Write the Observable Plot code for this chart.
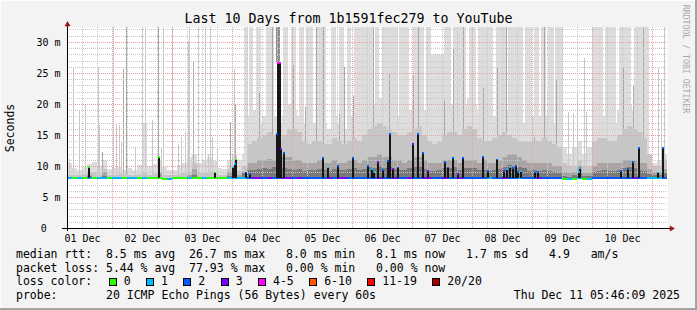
<!DOCTYPE html>
<html>
<head>
<meta charset="utf-8">
<script src="https://cdn.jsdelivr.net/npm/d3@7"></script>
<script src="https://cdn.jsdelivr.net/npm/@observablehq/plot@0.6"></script>
<style>
html,body{margin:0;padding:0;background:#f3f3f3;}
#wrap{position:relative;width:697px;height:310px;background:#f3f3f3;overflow:hidden;font-family:"DejaVu Sans Mono",monospace;color:#000;
 box-shadow: inset -2px -2px 0 #a3a3a3, inset 1px 1px 0 #fdfdfd;}
#plot{position:absolute;left:0;top:0;}
#plot svg{display:block;}
.title{position:absolute;left:0;top:11px;width:697px;text-align:center;font-size:13.3px;line-height:16px;white-space:pre;}
.ylab{position:absolute;left:10px;top:127.5px;font-size:11.5px;line-height:normal;white-space:pre;transform:translate(-50%,-50%) rotate(-90deg);}
.credit{position:absolute;left:686px;top:59px;font-size:8.2px;line-height:normal;color:#aaa;white-space:pre;transform:translate(-50%,-50%) rotate(90deg);}
.legend{position:absolute;left:16px;top:248px;font-size:11.5px;line-height:13.5px;white-space:pre;}
.row{position:relative;height:13.5px;}
.box{position:absolute;top:3.3px;width:6px;height:6px;border:1px solid #000;}
.lbl{position:absolute;top:0;}
.date{position:absolute;right:17px;top:288.5px;font-size:11.5px;line-height:13.5px;white-space:pre;}
</style>
</head>
<body>
<div id="wrap">
  <div id="plot"></div>
  <div class="title">Last 10 Days from 1b1591fec279 to YouTube</div>
  <div class="ylab">Seconds</div>
  <div class="credit">RRDTOOL / TOBI OETIKER</div>
  <div class="legend" id="legend"></div>
  <div class="date" id="date"></div>
</div>
<script>
// ---------------- DATA ----------------
// time buckets of 2 hours, starting 01 Dec 06:00 UTC (120 buckets = 10 days)
const smokeL = [10.5,9.6,9.4,9.8,10.3,10.6,10.0,11.0,9.5,9.6,9.8,9.4,9.6,9.4,10.2,17.0,10.0,10.3,11.0,9.8,9.3,9.4,10.2,10.4,11.5,12.0,10.5,11.0,11.5,10.8,9.6,9.5,11.0,12.0,11.0,
  12,18,19,17,18,19,18,17,18,20,19,18,17,18,17,18,17,16,18,17,16,18,18,17,19,20,20,21,20,20,19,18,19,19,20,20,19,18,18,19,19,20,20,19,20,21,20,19,18,18,18,19,19,19,18,18,17,17,18,18,18,19,17,16,13,12,13,14,12,13,17,18,18,18,17,19,20,20,19,19,18,12,10.5,11,12];
const smokeM = [8.6,8.6,8.6,8.7,9.0,8.8,8.6,9.5,8.6,8.6,8.7,8.6,8.6,8.6,8.7,8.8,8.6,8.7,9.0,8.6,8.5,8.6,8.7,8.8,9.0,10.5,8.8,8.9,9.0,8.8,8.6,8.6,9.5,10.0,9.2,
  10,13.5,14,14.5,15,15.4,15,14,15,16,16,15.5,14,13.5,14,14,13.5,13.5,14.5,14,13.5,14,14.5,14,15,16,16.5,17,16.5,16,15.5,15,15,15.5,16,16.5,15,14,13.5,13.8,15,15.5,15.5,15,16,16.5,16,14.5,14,14,14.5,15,15.5,15,14.5,14,13.8,13.8,14,14,14.5,14,13.5,13,10.5,10,10,11,10,10,14,14.5,14.5,14,14,15,16,16.5,16,15.5,14.5,12,10,10,11];
const smokeD = [8,8,8,8,8.6,8,8,9,8,8,8,8,8,8,8,8,8,8,8.8,8,8,8,8,8,8.5,9.5,8,8,8,8,8,8,9.0,9.5,8.6,
  9,10.5,10.5,11,11,11.2,11,11,11.5,11.5,11,11,10.5,10.5,10.5,11,10.5,10.5,11,10.5,10.5,11,11,10.5,11,11.5,11.5,12,11.5,11.5,11,11,10.5,11,11.5,11.5,11,10.5,10.5,10.5,11,11,11,10.5,11,11,11,10.5,11,10.5,10.5,11,11.5,12,12,11.5,11,10.5,10.5,10.5,10.5,10.5,10,10,9,8.8,9,10,8.8,8.8,10,10.5,10.5,10.5,10.5,10.5,11,11,11,10.5,10.5,9.5,9,9,9.5];
const smokeK = [8,8,8,8,8.4,8,8,8.4,8,8,8,8,8,8,8,8,8,8,8.3,8,8,8,8,8,8,8.6,8,8,8,8,8,8,8.4,8.6,8.2,
  8.8,9.4,9.3,9.5,9.6,9.5,9.8,9.4,9.6,9.5,9.4,9.5,9.2,9.3,9.4,9.5,9.4,9.2,9.5,9.3,9.4,9.5,9.6,9.3,9.5,9.8,9.7,10.0,9.7,9.8,9.5,9.4,9.3,9.6,9.8,10.0,9.5,9.2,9.2,9.3,9.6,9.7,9.8,9.4,9.6,9.7,9.6,9.3,9.4,9.2,9.4,9.5,9.8,10.2,10.0,9.8,9.6,9.2,9.3,9.2,9.3,9.2,9.0,8.9,8.4,8.3,8.5,9.2,8.4,8.4,9.0,9.2,9.3,9.2,9.2,9.4,9.6,9.8,9.7,9.4,9.2,8.7,8.5,8.6,8.8];
const medianMs = [8.1,8.1,8.1,8.1,8.1,8.1,8.1,8.1,8.1,8.1,8.1,8.1,8.1,8.1,8.1,8.1,8.1,8.1,8.1,8.0,7.9,8.1,8.1,8.1,8.1,8.1,8.1,8.1,8.1,8.1,8.1,8.1,8.1,8.1,8.1,
  8.2,8.2,8.2,8.2,8.2,8.2,8.2,8.2,8.2,8.2,8.2,8.2,8.2,8.2,8.2,8.2,8.2,8.2,8.2,8.2,8.2,8.2,8.2,8.2,8.2,8.2,8.2,8.2,8.2,8.2,8.2,8.2,8.2,8.2,8.2,8.2,8.2,8.2,8.2,8.2,8.2,8.2,8.2,8.2,8.2,8.2,8.2,8.2,8.2,8.2,8.2,8.2,8.2,8.2,8.2,8.2,8.2,8.2,8.2,8.2,8.2,8.2,8.2,8.2,8.0,7.9,8.0,8.1,8.0,7.9,8.2,8.2,8.2,8.2,8.2,8.2,8.2,8.2,8.2,8.2,8.2,8.1,8.1,8.1,8.2];
const lossCode = [1,0,1,0,1,0,1,1,0,1,1,0,1,1,0,1,0,0,0,0,1,0,0,0,1,0,0,1,0,0,0,0,1,1,1,
  1,2,3,3,2,3,2,2,3,3,2,3,2,2,2,2,2,3,2,3,3,2,2,2,2,2,2,3,2,2,3,2,2,3,2,2,3,3,2,2,3,2,2,3,2,2,2,2,2,1,2,2,3,2,2,1,2,2,2,3,2,2,2,2,0,1,0,1,0,1,2,2,2,2,2,2,2,2,3,2,2,1,1,1,2];

// light smoke reaching high (hours since start); bandBase = bottom of the band
const bandStart = [70.8,72.8,75.6,79.6,83.6,86.4,89.6,92.8,95.6,99.6,105.6,108.8,112,114.8,123.2,126,132.8,138.4,143.6,145.6,150.8,154.4,160.8,164.4,171.6,176.4,183.2,186.8,189.6,192.4,195.2,210,215.2,220.8,226.8];
const bandEnd   = [72.4,74.4,77.6,82.8,85.2,88.4,91.6,94.8,98.4,103.6,107.6,110.8,113.6,122.4,124.8,132.4,136.8,142.8,145.6,150.8,153.6,159.6,163.6,170.4,175.6,182.4,186,188.8,191.6,194.8,198.4,214.4,219.6,225.6,232.8];
const bandBase  = [8,8,8,8,26.8,8,8,8,8,8,8,8,8,8,8,8,8,8,8,8,8,8,8,8,8,8,8,8,8,8,8,8,8,8,8];
const bandTop   = [32.4,32.4,32.4,32.4,32.4,32.4,32.4,32.4,32.4,32.4,32.4,32.4,32.4,32.4,32.4,32.4,32.4,32.4,32.4,28,32.4,32.4,32.4,32.4,32.4,32.4,32.4,32.4,32.4,32.4,32.4,32.4,32.4,32.4,32.4];
const bandShade = [0,0,0,0,1,0,0,0,0,0,0,0,0,0,0,0,0,0,0,0,0,0,0,0,0,0,0,0,0,0,0,0,0,0,0];

// single ping outliers (thin smoke lines)
const spikeHour  = [0.9,2.5,4.7,7.3,12.5,12.9,13.9,18.3,19.6,20.9,21.6,22.5,23.6,27.3,30.0,31.3,34.0,36.4,37.6,38.5,42.0,44.3,45.6,47.3,48.3,48.9,50.5,52.3,55.3,56.3,57.2,58.0,59.9,65.3,66.9,67.2,
  76.9,82.0,90.5,95.3,99.6,102.3,108.7,110.9,114.3,122.3,128.7,138.3,140.3,150.9,154.5,158.3,166.3,171.9,175.6,186.9,190.9,195.6,222.3,226.3,230.5,
  200.3,202.3,204.0,206.9,207.6,236.3,237.6,238.7];
const spikeTop   = [11.2,25.9,19.1,20.0,25.9,16.6,12.3,32.4,16.7,16.6,14.1,25.6,32.4,12.9,32.4,32.4,17.4,32.4,13.0,32.4,32.4,13.6,14.7,15.5,30.2,32.4,27.0,32.4,32.4,12.0,32.4,14.7,13.0,17.1,25.7,20.0,
  22,32.4,26.2,19.5,32.4,32.4,18.4,26,21.2,32.4,24.9,24.5,32.4,20.7,29,32.4,22.5,26,32.4,14.7,32.4,23.9,26,23,32.4,
  18.7,18.6,22,27.4,18.7,25.8,24,32.4];
const spikeShade = [0,0,0,0,0,0,1,0,0,0,0,1,1,0,0,0,0,1,0,0,0,0,0,0,0,0,1,0,0,0,0,0,0,1,0,1,
  1,1,1,1,1,1,1,1,1,1,1,1,1,1,1,1,1,1,1,1,1,1,1,1,1,
  0,0,0,0,0,0,0,0];

// elevated medians (hour, value in ms, loss class)
const barHour = [8.4,36.4,58.8,66.0,66.8,67.5,71.3,72.9,83.7,84.2,84.8,85.4,86.4,102.2,104.3,108.3,114.2,120.3,121.8,122.4,124.3,126.3,128.3,128.8,130.0,132.3,138.3,140.3,142.3,144.3,150.9,152.3,154.3,156.3,158.3,166.3,168.3,171.6,174.4,175.6,176.8,178.0,179.2,180.0,181.2,186.9,188.3,204.4,205.0,221.2,224.3,226.3,228.4,236.3,238.3];
const barTop  = [10.0,11.6,9.1,9.9,10.5,11.2,9.1,8.9,15.3,26.8,26.8,12.9,12.2,11.5,9.9,10.2,11.5,10.2,9.6,9.2,10.8,9.5,11.0,15.3,9.7,9.9,13.7,15.3,12.2,9.4,10.8,9.9,11.5,8.9,11.5,11.6,9.4,11.2,9.3,9.6,9.9,9.8,10.2,9.2,9.4,9.1,9.2,9.2,9.8,9.4,9.6,10.8,13.1,9.1,13.0];
const barLoss = [0,0,0,1,1,0,2,2,2,4,4,3,2,2,1,2,2,2,1,1,3,2,2,2,3,2,3,2,2,3,2,2,2,3,2,2,2,2,3,1,1,2,2,2,1,2,2,1,1,2,2,2,2,1,2];

const yTicks = [5, 10, 15, 20, 25, 30];
const dayTicks = ["2025-12-01T12:00:00Z","2025-12-02T12:00:00Z","2025-12-03T12:00:00Z","2025-12-04T12:00:00Z","2025-12-05T12:00:00Z","2025-12-06T12:00:00Z","2025-12-07T12:00:00Z","2025-12-08T12:00:00Z","2025-12-09T12:00:00Z","2025-12-10T12:00:00Z"];
const dayLabels = ["01 Dec","02 Dec","03 Dec","04 Dec","05 Dec","06 Dec","07 Dec","08 Dec","09 Dec","10 Dec"];

const lossLabels = ["0","1","2","3","4-5","6-10","11-19","20/20"];
const lossColors = ["#26ff00","#00b8ff","#0059ff","#7e00ff","#ff00ff","#ff5500","#ff0000","#a10000"];

const statsRtt  = "median rtt:  8.5 ms avg  26.7 ms max   8.0 ms min   8.1 ms now   1.7 ms sd   4.9   am/s";
const statsLoss = "packet loss: 5.44 % avg  77.93 % max   0.00 % min   0.00 % now";
const probeText = "probe:       20 ICMP Echo Pings (56 Bytes) every 60s";
const dateText  = "Thu Dec 11 05:46:09 2025";

// ---------------- BUILD ----------------
const START = Date.UTC(2025, 11, 1, 6, 0);
const END = Date.UTC(2025, 11, 11, 6, 0);
const BUCKET_H = 2;
const MIN_RTT = 7.95;
const at = h => new Date(START + h * 3600e3);

const buckets = smokeL.map((L, i) => ({
  t0: at(i * BUCKET_H), t1: at((i + 1) * BUCKET_H),
  L, M: smokeM[i], D: smokeD[i], K: smokeK[i], med: medianMs[i], loss: lossCode[i]
}));
const bands = bandStart.map((s, i) => ({t0: at(s), t1: at(bandEnd[i]), base: bandBase[i], top: bandTop[i], shade: bandShade[i]}));
const spikes = spikeHour.map((h, i) => ({t: at(h), top: spikeTop[i], shade: spikeShade[i]}));
const bars = barHour.map((h, i) => ({t: at(h), top: barTop[i], loss: barLoss[i]}));
const bandColors = ["#dddddd", "#8e8e8e"];
const spikeColors = ["#c9c9c9", "#a8a8a8"];
const labelMap = new Map(dayTicks.map((d, i) => [+new Date(d), dayLabels[i]]));

const minorY = d3.range(1, 33).filter(v => v % 5 !== 0);
const majorY = [5, 10, 15, 20, 25, 30];
const sixHours = d3.utcHour.every(6).range(new Date(START + 1), new Date(END));
const majorX = sixHours.filter(d => d.getUTCHours() === 0);
const minorX = sixHours.filter(d => d.getUTCHours() !== 0);

const crisp = {shapeRendering: "crispEdges"};
const chart = Plot.plot({
  width: 697, height: 246,
  marginLeft: 67, marginRight: 30, marginTop: 27, marginBottom: 18,
  x: {type: "utc", domain: [new Date(START), new Date(END)]},
  y: {domain: [0, 32.4]},
  style: {background: "transparent", fontFamily: "DejaVu Sans Mono", fontSize: "10px", color: "#000", overflow: "visible"},
  marks: [
    Plot.frame({fill: "white", stroke: null}),
    Plot.rect(buckets, {x1: "t0", x2: "t1", y1: MIN_RTT, y2: "L", fill: "#dddddd", ...crisp}),
    Plot.rect(bands, {x1: "t0", x2: "t1", y1: "base", y2: "top", fill: d => bandColors[d.shade], ...crisp}),
    Plot.ruleX(spikes, {x: "t", y1: MIN_RTT, y2: "top", stroke: d => spikeColors[d.shade], strokeWidth: 1, ...crisp}),
    Plot.rect(buckets, {x1: "t0", x2: "t1", y1: MIN_RTT, y2: "M", fill: "#c6c6c6", ...crisp}),
    Plot.rect(buckets, {x1: "t0", x2: "t1", y1: MIN_RTT, y2: "D", fill: "#a5a5a5", ...crisp}),
    Plot.rect(buckets, {x1: "t0", x2: "t1", y1: MIN_RTT, y2: "K", fill: "#7a7a7a", ...crisp}),
    Plot.ruleY(minorY, {stroke: "#c8c8c8", strokeDasharray: "1,1", ...crisp}),
    Plot.ruleX(minorX, {stroke: "#c8c8c8", strokeDasharray: "1,1", ...crisp}),
    Plot.ruleY(majorY, {stroke: "#e6a0a0", strokeDasharray: "1,1", ...crisp}),
    Plot.ruleX(majorX, {stroke: "#e6a0a0", strokeDasharray: "1,1", ...crisp}),
    Plot.ruleY(buckets, {y: "med", x1: "t0", x2: "t1", stroke: d => lossColors[d.loss], strokeWidth: 2, ...crisp}),
    Plot.ruleX(bars, {x: "t", y1: 8.1, y2: "top", stroke: "#161616", strokeWidth: 2, ...crisp}),
    Plot.ruleX(bars, {x: "t", y1: d => d.top - 0.3, y2: "top", stroke: d => lossColors[d.loss], strokeWidth: 2, ...crisp}),
    Plot.ruleY([0], {stroke: "#000", insetLeft: -5, insetRight: -3, ...crisp}),
    Plot.ruleX([new Date(START)], {stroke: "#000", insetTop: -4, insetBottom: -3, ...crisp}),
    Plot.dot([{t: new Date(END), v: 0}], {x: "t", y: "v", symbol: "triangle", rotate: 90, r: 2.2, dx: 4, fill: "#9b1515", stroke: null}),
    Plot.dot([{t: new Date(START), v: 32.4}], {x: "t", y: "v", symbol: "triangle", r: 2.2, dy: -3, fill: "#9b1515", stroke: null}),
    Plot.axisY(yTicks, {tickFormat: d => `${d} m`, tickSize: 0, tickPadding: 7, label: null}),
    Plot.axisY([0], {tickFormat: () => "0", tickSize: 0, tickPadding: 7, dx: -13.8, label: null}),
    Plot.axisX(dayTicks.map(d => new Date(d)), {tickFormat: d => labelMap.get(+d), tickSize: 0, tickPadding: 6, label: null})
  ]
});
document.getElementById("plot").appendChild(chart);

// legend
const legend = document.getElementById("legend");
const addRow = txt => { const r = document.createElement("div"); r.className = "row"; r.textContent = txt; legend.appendChild(r); return r; };
addRow(statsRtt);
addRow(statsLoss);
const lossRow = addRow("loss color:");
const CH = 6.92;
let x = 108.7 - 16;
lossLabels.forEach((lab, i) => {
  const b = document.createElement("span"); b.className = "box"; b.style.left = x + "px"; b.style.background = lossColors[i]; lossRow.appendChild(b);
  const l = document.createElement("span"); l.className = "lbl"; l.style.left = (x + 15) + "px"; l.textContent = lab; lossRow.appendChild(l);
  x += 30.4 + lab.length * CH;
});
addRow(probeText);
document.getElementById("date").textContent = dateText;
</script>
</body>
</html>
